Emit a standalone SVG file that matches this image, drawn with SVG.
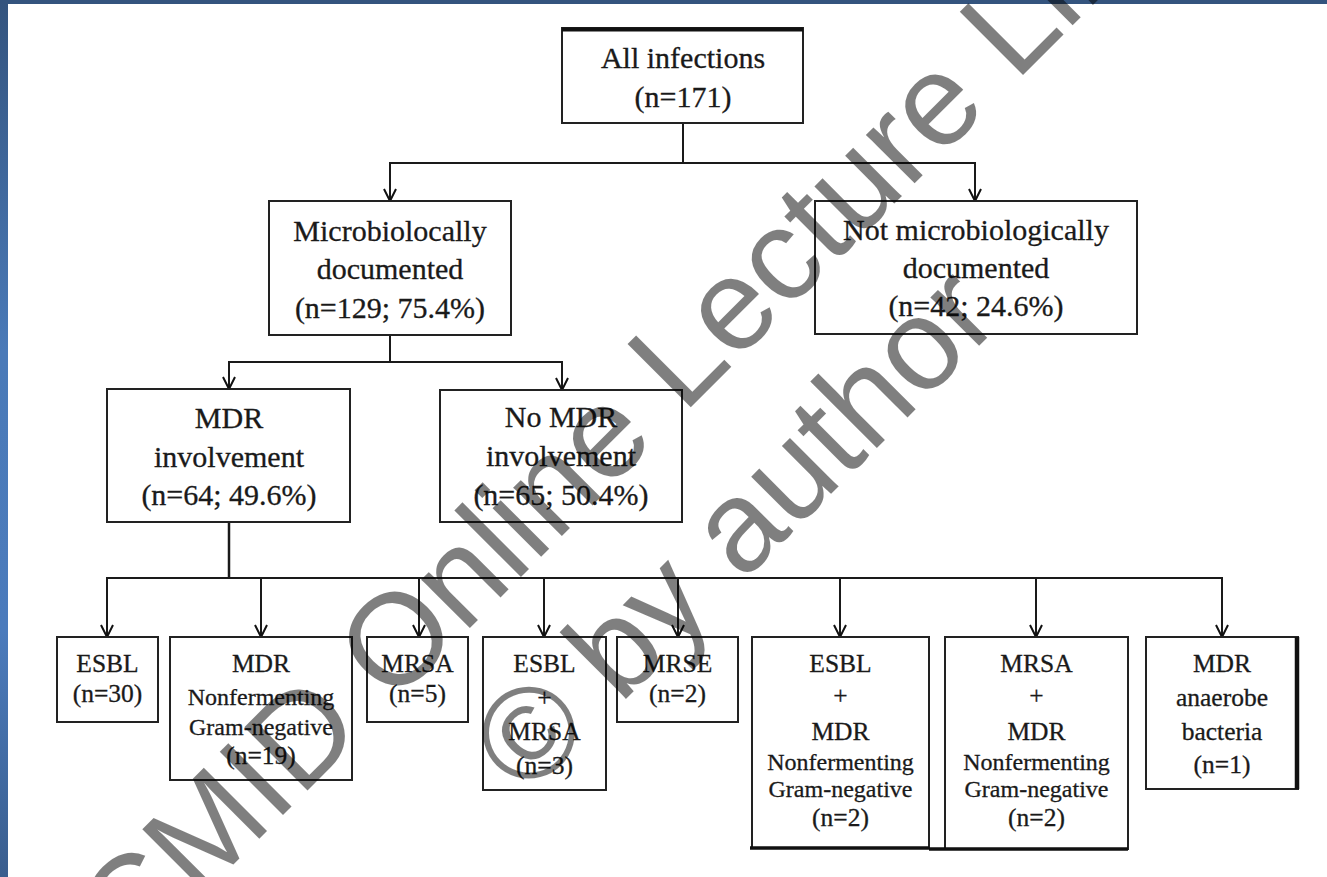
<svg xmlns="http://www.w3.org/2000/svg" width="1327" height="877" viewBox="0 0 1327 877">
<defs>
<linearGradient id="side" x1="0" y1="0" x2="0" y2="1">
<stop offset="0" stop-color="#34547e"/>
<stop offset="0.4" stop-color="#4a7ab8"/>
<stop offset="0.72" stop-color="#4b7bbc"/>
<stop offset="1" stop-color="#3a5e8e"/>
</linearGradient>
<marker id="arr" markerWidth="16" markerHeight="16" refX="13" refY="7" orient="auto" markerUnits="userSpaceOnUse"><path d="M1,1 L13,7 L1,13" fill="none" stroke="#111" stroke-width="2"/></marker>
<style>
.box{fill:#fff;stroke:#222;stroke-width:2}
.edge{stroke:#111;fill:none}
.t{font-family:"Liberation Serif","Times New Roman",serif;fill:#1a1a1a;stroke:#1a1a1a;stroke-width:0.3;text-anchor:middle}
.l{font-size:30px}
.s{font-size:25.5px}
.n{font-size:24px}
.c{fill:none;stroke:#1a1a1a;stroke-width:2}
.wm{font-family:"Liberation Sans",Arial,sans-serif;font-size:130px;fill:#000;fill-opacity:0.5;text-anchor:middle}
</style>
</defs>
<rect x="0" y="0" width="1327" height="877" fill="#fff"/>
<rect x="0" y="0" width="8" height="877" fill="url(#side)"/>
<rect x="0" y="0" width="1327" height="4" fill="#34547e"/>

<g id="connectors">
<path class="c" d="M683,123 V163"/>
<path class="c" d="M683,163 H390 V201" marker-end="url(#arr)"/>
<path class="c" d="M683,163 H975 V201" marker-end="url(#arr)"/>
<path class="c" d="M390,335 V362"/>
<path class="c" d="M390,362 H229 V389" marker-end="url(#arr)"/>
<path class="c" d="M390,362 H562 V390" marker-end="url(#arr)"/>
<path class="c" style="stroke-width:2.5" d="M229,522 V578"/>
<path class="c" d="M229,578 H107 V637" marker-end="url(#arr)"/>
<path class="c" d="M229,578 H261 V637" marker-end="url(#arr)"/>
<path class="c" d="M229,578 H419 V637" marker-end="url(#arr)"/>
<path class="c" d="M229,578 H544 V637" marker-end="url(#arr)"/>
<path class="c" d="M229,578 H678 V637" marker-end="url(#arr)"/>
<path class="c" d="M229,578 H840 V637" marker-end="url(#arr)"/>
<path class="c" d="M229,578 H1036 V637" marker-end="url(#arr)"/>
<path class="c" d="M229,578 H1222 V637" marker-end="url(#arr)"/>
</g>

<g id="n-all">
<rect class="box" x="562" y="28" width="241" height="95"/>
<line class="edge" x1="562" y1="29.5" x2="803" y2="29.5" stroke-width="4"/>
<text class="t l" x="683" y="68">All infections</text>
<text class="t l" x="683" y="107">(n=171)</text>
</g>
<g id="n-micro">
<rect class="box" x="269" y="201" width="242" height="134"/>
<text class="t l" x="390" y="241">Microbiolocally</text>
<text class="t l" x="390" y="279">documented</text>
<text class="t l" x="390" y="318">(n=129; 75.4%)</text>
</g>
<g id="n-notmicro">
<rect class="box" x="815" y="201" width="322" height="133"/>
<text class="t l" x="976" y="240">Not microbiologically</text>
<text class="t l" x="976" y="278">documented</text>
<text class="t l" x="976" y="316">(n=42; 24.6%)</text>
</g>
<g id="n-mdr">
<rect class="box" x="107" y="389" width="243" height="133"/>
<text class="t l" x="229" y="428">MDR</text>
<text class="t l" x="229" y="467">involvement</text>
<text class="t l" x="229" y="505">(n=64; 49.6%)</text>
</g>
<g id="n-nomdr">
<rect class="box" x="440" y="390" width="242" height="132"/>
<text class="t l" x="561" y="427">No MDR</text>
<text class="t l" x="561" y="466">involvement</text>
<text class="t l" x="561" y="505">(n=65; 50.4%)</text>
</g>

<g id="n-esbl">
<rect class="box" x="57" y="637" width="101" height="85"/>
<text class="t s" x="107.5" y="672">ESBL</text>
<text class="t s" x="107.5" y="702">(n=30)</text>
</g>
<g id="n-mdrnf">
<rect class="box" x="170" y="637" width="182" height="143"/>
<text class="t s" x="261" y="672">MDR</text>
<text class="t n" x="261" y="705">Nonfermenting</text>
<text class="t n" x="261" y="735">Gram-negative</text>
<text class="t s" x="261" y="764">(n=19)</text>
</g>
<g id="n-mrsa">
<rect class="box" x="367" y="637" width="101" height="85"/>
<text class="t s" x="417.5" y="672">MRSA</text>
<text class="t s" x="417.5" y="702">(n=5)</text>
</g>
<g id="n-esbl-mrsa">
<rect class="box" x="483" y="637" width="123" height="153"/>
<text class="t s" x="544.5" y="672">ESBL</text>
<text class="t s" x="544.5" y="706">+</text>
<text class="t s" x="544.5" y="740">MRSA</text>
<text class="t s" x="544.5" y="774">(n=3)</text>
</g>
<g id="n-mrse">
<rect class="box" x="617" y="637" width="121" height="85"/>
<text class="t s" x="677.5" y="672">MRSE</text>
<text class="t s" x="677.5" y="702">(n=2)</text>
</g>
<g id="n-esbl-mdrnf">
<rect class="box" x="752" y="637" width="177" height="211"/>
<line class="edge" x1="750" y1="848" x2="929" y2="848" stroke-width="3.5"/>
<text class="t s" x="840.5" y="672">ESBL</text>
<text class="t s" x="840.5" y="704">+</text>
<text class="t s" x="840.5" y="740">MDR</text>
<text class="t n" x="840.5" y="770">Nonfermenting</text>
<text class="t n" x="840.5" y="797">Gram-negative</text>
<text class="t s" x="840.5" y="826">(n=2)</text>
</g>
<g id="n-mrsa-mdrnf">
<rect class="box" x="945" y="637" width="183" height="212"/>
<line class="edge" x1="929" y1="849" x2="1128" y2="849" stroke-width="3.5"/>
<text class="t s" x="1036.5" y="672">MRSA</text>
<text class="t s" x="1036.5" y="704">+</text>
<text class="t s" x="1036.5" y="740">MDR</text>
<text class="t n" x="1036.5" y="770">Nonfermenting</text>
<text class="t n" x="1036.5" y="797">Gram-negative</text>
<text class="t s" x="1036.5" y="826">(n=2)</text>
</g>
<g id="n-anaerobe">
<rect class="box" x="1146" y="637" width="152" height="152"/>
<line class="edge" x1="1297" y1="637" x2="1297" y2="789" stroke-width="4.5"/>
<text class="t s" x="1222" y="672">MDR</text>
<text class="t s" x="1222" y="706">anaerobe</text>
<text class="t s" x="1222" y="740">bacteria</text>
<text class="t s" x="1222" y="773">(n=1)</text>
</g>

<g id="watermark">
<text class="wm" transform="translate(714,384) rotate(-45)">CMID Online Lecture Library</text>
<text class="wm" transform="translate(765,560) rotate(-45)">© by author</text>
</g>
</svg>
